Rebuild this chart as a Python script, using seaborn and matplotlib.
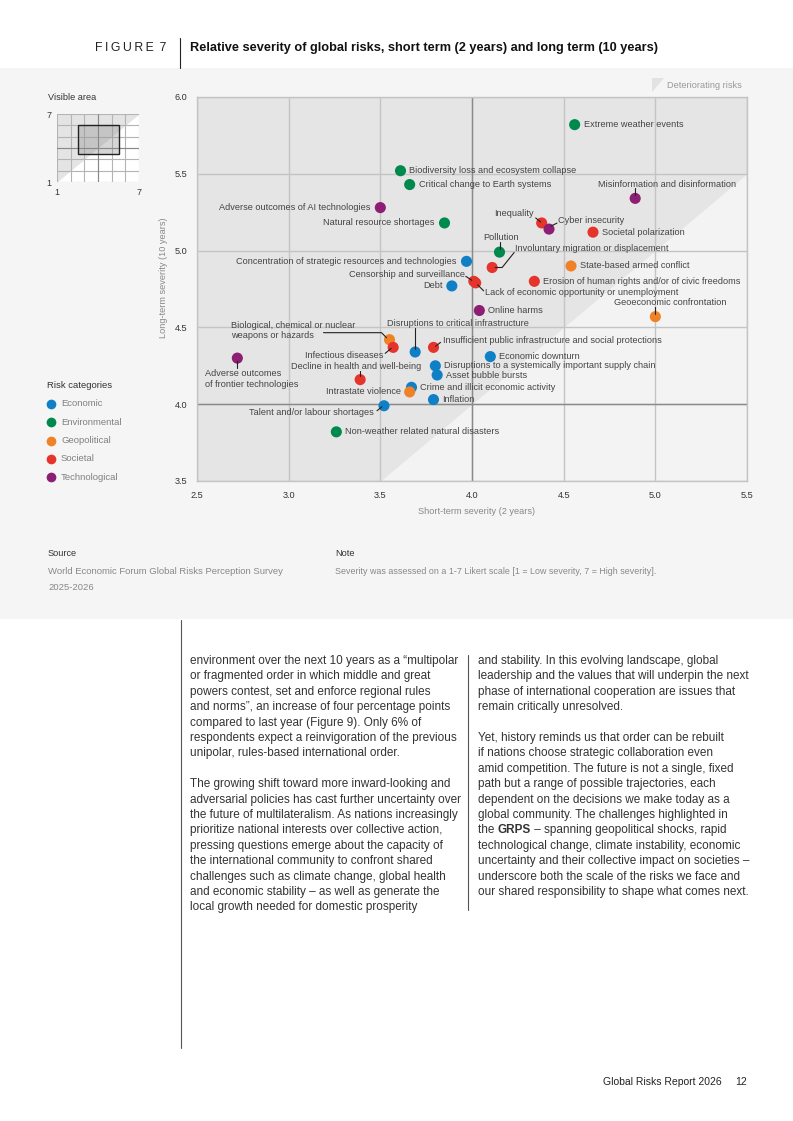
import numpy as np
import pandas as pd
import matplotlib
matplotlib.use("Agg")
import matplotlib.pyplot as plt
import matplotlib.transforms as mtransforms
from matplotlib.lines import Line2D
from matplotlib.patches import Rectangle, Polygon
import seaborn as sns

# ---- data ----
risks = [
    "Extreme weather events",
    "Biodiversity loss and ecosystem collapse",
    "Critical change to Earth systems",
    "Misinformation and disinformation",
    "Adverse outcomes of AI technologies",
    "Inequality",
    "Natural resource shortages",
    "Cyber insecurity",
    "Societal polarization",
    "Pollution",
    "Concentration of strategic resources and technologies",
    "State-based armed conflict",
    "Involuntary migration or displacement",
    "Censorship and surveillance",
    "Erosion of human rights and/or of civic freedoms",
    "Lack of economic opportunity or unemployment",
    "Debt",
    "Online harms",
    "Geoeconomic confrontation",
    "Biological, chemical or nuclear\nweapons or hazards",
    "Infectious diseases",
    "Insufficient public infrastructure and social protections",
    "Disruptions to critical infrastructure",
    "Economic downturn",
    "Adverse outcomes\nof frontier technologies",
    "Disruptions to a systemically important supply chain",
    "Asset bubble bursts",
    "Decline in health and well-being",
    "Crime and illicit economic activity",
    "Intrastate violence",
    "Inflation",
    "Talent and/or labour shortages",
    "Non-weather related natural disasters",
]
categories = [
    "Environmental", "Environmental", "Environmental", "Technological", "Technological",
    "Societal", "Environmental", "Technological", "Societal", "Environmental",
    "Economic", "Geopolitical", "Societal", "Societal", "Societal",
    "Societal", "Economic", "Technological", "Geopolitical", "Geopolitical",
    "Societal", "Societal", "Economic", "Economic", "Technological",
    "Economic", "Economic", "Societal", "Economic", "Geopolitical",
    "Economic", "Economic", "Environmental",
]
short_term = [4.56, 3.61, 3.66, 4.89, 3.50, 4.38, 3.85, 4.42, 4.66, 4.15,
              3.97, 4.54, 4.11, 4.01, 4.34, 4.02, 3.89, 4.04, 5.00, 3.55,
              3.57, 3.79, 3.69, 4.10, 2.72, 3.80, 3.81, 3.39, 3.67, 3.66,
              3.79, 3.52, 3.26]
long_term = [5.82, 5.52, 5.43, 5.34, 5.28, 5.18, 5.18, 5.14, 5.12, 4.99,
             4.93, 4.90, 4.89, 4.80, 4.80, 4.79, 4.77, 4.61, 4.57, 4.42,
             4.37, 4.37, 4.34, 4.31, 4.30, 4.25, 4.19, 4.16, 4.11, 4.08,
             4.03, 3.99, 3.82]

category_names = ["Economic", "Environmental", "Geopolitical", "Societal", "Technological"]
category_colors = ["#0f80c6", "#00894c", "#ef8227", "#e5342b", "#8c1f73"]

x_ticks = [2.5, 3.0, 3.5, 4.0, 4.5, 5.0, 5.5]
y_ticks = [3.5, 4.0, 4.5, 5.0, 5.5, 6.0]
inset_ticks = [1, 2, 3, 4, 5, 6, 7]

# label placement in pixels relative to the point (dx right, dy down, align)
label_pos = {
    "Misinformation and disinformation": (32, -14, "center"),
    "Adverse outcomes of AI technologies": (-10, 0, "right"),
    "Inequality": (-8, -9, "right"),
    "Natural resource shortages": (-10, 0, "right"),
    "Cyber insecurity": (9, -9, "left"),
    "Pollution": (2, -15, "center"),
    "Concentration of strategic resources and technologies": (-10, 0, "right"),
    "Involuntary migration or displacement": (23, -19, "left"),
    "Censorship and surveillance": (-9, -7, "right"),
    "Lack of economic opportunity or unemployment": (9, 10, "left"),
    "Debt": (-9, 0, "right"),
    "Geoeconomic confrontation": (15, -14, "center"),
    "Biological, chemical or nuclear\nweapons or hazards": (-158, -9, "left"),
    "Infectious diseases": (-10, 8, "right"),
    "Insufficient public infrastructure and social protections": (10, -7, "left"),
    "Disruptions to critical infrastructure": (-28, -28, "left"),
    "Adverse outcomes\nof frontier technologies": (-32, 21, "left"),
    "Decline in health and well-being": (-4, -13, "center"),
    "Intrastate violence": (-9, 0, "right"),
    "Talent and/or labour shortages": (-10, 7, "right"),
}
leaders = {
    "Misinformation and disinformation": [(0, -3), (0, -10)],
    "Inequality": [(-6, -5), (-1, -1)],
    "Cyber insecurity": [(2, -3), (8, -6)],
    "Pollution": [(0, -3), (0, -10)],
    "Involuntary migration or displacement": [(3, 0), (10, 0), (22, -15)],
    "Censorship and surveillance": [(-8, -5), (-2, -1)],
    "Lack of economic opportunity or unemployment": [(2, 2), (8, 8)],
    "Geoeconomic confrontation": [(0, -3), (0, -10)],
    "Biological, chemical or nuclear\nweapons or hazards": [(-66, -7), (-8, -7), (-3, -2)],
    "Infectious diseases": [(-8, 6), (-2, 1)],
    "Insufficient public infrastructure and social protections": [(2, -1), (7, -5)],
    "Disruptions to critical infrastructure": [(0, -3), (0, -24)],
    "Adverse outcomes\nof frontier technologies": [(0, 3), (0, 10)],
    "Decline in health and well-being": [(0, -4), (0, -9)],
    "Talent and/or labour shortages": [(-7, 5), (-2, 1)],
}

df = pd.DataFrame({"risk": risks, "category": categories,
                   "short_term": short_term, "long_term": long_term})

sns.set_theme(style="white")
plt.rcParams["font.family"] = ["Liberation Sans", "DejaVu Sans"]

W, H = 793, 1121
fig = plt.figure(figsize=(W / 100, H / 100), dpi=100)
fig.patch.set_facecolor("white")


def fx(px):
    return px / W


def fy(py):
    return 1 - py / H


# grey panel behind the figure
fig.add_artist(Rectangle((0, fy(619)), 1, fy(68) - fy(619), transform=fig.transFigure,
                         facecolor="#f5f5f5", edgecolor="none", zorder=-5))

# header
fig.text(fx(95), fy(48), "F\u2009I\u2009G\u2009U\u2009R\u2009E\u2009 7", fontsize=8.8,
         color="#222", va="center")
fig.add_artist(Line2D([fx(180), fx(180)], [fy(38), fy(68)], color="#222", lw=0.8))
fig.text(fx(190), fy(48),
         "Relative severity of global risks, short term (2 years) and long term (10 years)",
         fontsize=9.2, fontweight="bold", color="#111", va="center")

# ---- main scatter ----
ax = fig.add_axes([fx(197), fy(481), fx(747) - fx(197), fy(97) - fy(481)])
ax.set_facecolor("#f3f3f3")
ax.set_xlim(x_ticks[0], x_ticks[-1])
ax.set_ylim(y_ticks[0], y_ticks[-1])
xs = np.array([x_ticks[0], y_ticks[0], x_ticks[-1]])
ax.fill_between(xs, np.maximum(xs, y_ticks[0]), y_ticks[-1], color="#e5e5e5", lw=0, zorder=0.2)
ax.set_axisbelow(True)
ax.grid(True, color="#c4c4c4", lw=1)
ax.axvline(4.0, color="#8a8a8a", lw=1, zorder=0.6)
ax.axhline(4.0, color="#8a8a8a", lw=1, zorder=0.6)
for s in ax.spines.values():
    s.set_color("#c4c4c4")
    s.set_linewidth(1)
ax.set_xticks(x_ticks)
ax.set_xticklabels([f"{v:.1f}" for v in x_ticks])
ax.set_yticks(y_ticks)
ax.set_yticklabels([f"{v:.1f}" for v in y_ticks])
ax.tick_params(length=0, labelsize=6.6, labelcolor="#333", pad=7)

sns.scatterplot(data=df, x="short_term", y="long_term", hue="category",
                palette=dict(zip(category_names, category_colors)),
                s=64, edgecolor="none", linewidth=0, legend=False, ax=ax, zorder=3)
ax.set_xlabel("")
ax.set_ylabel("")

for name, x, y in zip(risks, short_term, long_term):
    dx, dy, ha = label_pos.get(name, (9, 0, "left"))
    ax.annotate(name, (x, y), xytext=(dx, -dy), textcoords="offset pixels",
                ha=ha, va="center", fontsize=6.6, color="#444", linespacing=1.2, zorder=5)
    if name in leaders:
        px, py = ax.transData.transform((x, y))
        lx = [px + d[0] for d in leaders[name]]
        ly = [py - d[1] for d in leaders[name]]
        ax.add_line(Line2D(lx, ly, transform=mtransforms.IdentityTransform(),
                           color="#222", lw=0.8, zorder=4))

fig.text(fx(163), fy(278), "Long-term severity (10 years)", rotation=90,
         ha="center", va="center", fontsize=6.6, color="#888")
fig.text(fx(477), fy(511), "Short-term severity (2 years)",
         ha="center", va="center", fontsize=6.6, color="#888")

# deteriorating risks key
fig.add_artist(Polygon([[fx(652), fy(78)], [fx(664), fy(78)], [fx(652), fy(92)]],
                       transform=fig.transFigure, facecolor="#e2e2e2", edgecolor="none"))
fig.text(fx(667), fy(85), "Deteriorating risks", fontsize=6.6, color="#999", va="center")

# ---- visible area inset ----
fig.text(fx(48), fy(97), "Visible area", fontsize=6.6, color="#333", va="center")
axi = fig.add_axes([fx(57), fy(182), fx(139) - fx(57), fy(114) - fy(182)])
axi.set_facecolor("white")
axi.set_xlim(1, 7)
axi.set_ylim(1, 7)
ix = np.array([1, 7])
axi.fill_between(ix, ix, 7, color="#e4e4e4", lw=0, zorder=0.2)
axi.set_axisbelow(True)
axi.set_xticks(inset_ticks)
axi.set_yticks(inset_ticks)
axi.grid(True, color="#b4b4b4", lw=0.8)
axi.axvline(4, color="#888", lw=0.8, zorder=0.6)
axi.axhline(4, color="#888", lw=0.8, zorder=0.6)
for s in axi.spines.values():
    s.set_visible(False)
axi.add_patch(Rectangle((x_ticks[0], y_ticks[0]), x_ticks[-1] - x_ticks[0], y_ticks[-1] - y_ticks[0],
                        facecolor="#8c8c8c", alpha=0.35, edgecolor="none", zorder=2))
axi.add_patch(Rectangle((x_ticks[0], y_ticks[0]), x_ticks[-1] - x_ticks[0], y_ticks[-1] - y_ticks[0],
                        facecolor="none", edgecolor="#222", lw=1, zorder=3))
axi.set_xticklabels(["1", "", "", "", "", "", "7"])
axi.set_yticklabels(["1", "", "", "", "", "", "7"])
axi.tick_params(length=0, labelsize=6.4, labelcolor="#333", pad=4)

# ---- legend ----
fig.text(fx(47), fy(385), "Risk categories", fontsize=6.8, color="#333", va="center")
for i, (nm, col) in enumerate(zip(category_names, category_colors)):
    yy = fy(404 + 18.3 * i)
    fig.add_artist(Line2D([fx(51)], [yy], marker="o", ms=7, color=col, mec="none",
                          transform=fig.transFigure))
    fig.text(fx(61), yy, nm, fontsize=6.8, color="#808080", va="center")

# ---- source / note ----
fig.text(fx(48), fy(554), "Source", fontsize=6.6, color="#333", va="center")
fig.text(fx(48), fy(571), "World Economic Forum Global Risks Perception Survey",
         fontsize=6.8, color="#888", va="center")
fig.text(fx(48), fy(587), "2025-2026", fontsize=6.8, color="#888", va="center")
fig.text(fx(335), fy(554), "Note", fontsize=6.6, color="#333", va="center")
fig.text(fx(335), fy(571),
         "Severity was assessed on a 1-7 Likert scale [1 = Low severity, 7 = High severity].",
         fontsize=6.4, color="#888", va="center")

# ---- body text ----
left_col = [
    "environment over the next 10 years as a \u201cmultipolar",
    "or fragmented order in which middle and great",
    "powers contest, set and enforce regional rules",
    "and norms\u201d, an increase of four percentage points",
    "compared to last year (Figure 9). Only 6% of",
    "respondents expect a reinvigoration of the previous",
    "unipolar, rules-based international order.",
    "",
    "The growing shift toward more inward-looking and",
    "adversarial policies has cast further uncertainty over",
    "the future of multilateralism. As nations increasingly",
    "prioritize national interests over collective action,",
    "pressing questions emerge about the capacity of",
    "the international community to confront shared",
    "challenges such as climate change, global health",
    "and economic stability \u2013 as well as generate the",
    "local growth needed for domestic prosperity",
]
right_col = [
    "and stability. In this evolving landscape, global",
    "leadership and the values that will underpin the next",
    "phase of international cooperation are issues that",
    "remain critically unresolved.",
    "",
    "Yet, history reminds us that order can be rebuilt",
    "if nations choose strategic collaboration even",
    "amid competition. The future is not a single, fixed",
    "path but a range of possible trajectories, each",
    "dependent on the decisions we make today as a",
    "global community. The challenges highlighted in",
    "the |GRPS| \u2013 spanning geopolitical shocks, rapid",
    "technological change, climate instability, economic",
    "uncertainty and their collective impact on societies \u2013",
    "underscore both the scale of the risks we face and",
    "our shared responsibility to shape what comes next.",
]
body_kw = dict(fontsize=8.5, color="#333", va="center")
renderer = fig.canvas.get_renderer()
for col_x, lines in [(190, left_col), (478, right_col)]:
    for i, line in enumerate(lines):
        yy = fy(661 + 15.4 * i)
        if "|" in line:
            x0 = fx(col_x)
            for j, part in enumerate(line.split("|")):
                t = fig.text(x0, yy, part, fontweight="bold" if j % 2 else "normal", **body_kw)
                x0 = t.get_window_extent(renderer).x1 / W
        else:
            fig.text(fx(col_x), yy, line, **body_kw)

fig.add_artist(Line2D([fx(181), fx(181)], [fy(620), fy(1048)], color="#555", lw=0.8))
fig.add_artist(Line2D([fx(468), fx(468)], [fy(655), fy(910)], color="#555", lw=0.8))

# footer
fig.text(fx(722), fy(1082), "Global Risks Report 2026", ha="right", va="center",
         fontsize=7.5, color="#222")
fig.text(fx(735), fy(1082), "12", va="center", fontsize=7.5, color="#222")

fig.savefig("out.png", dpi=100)
